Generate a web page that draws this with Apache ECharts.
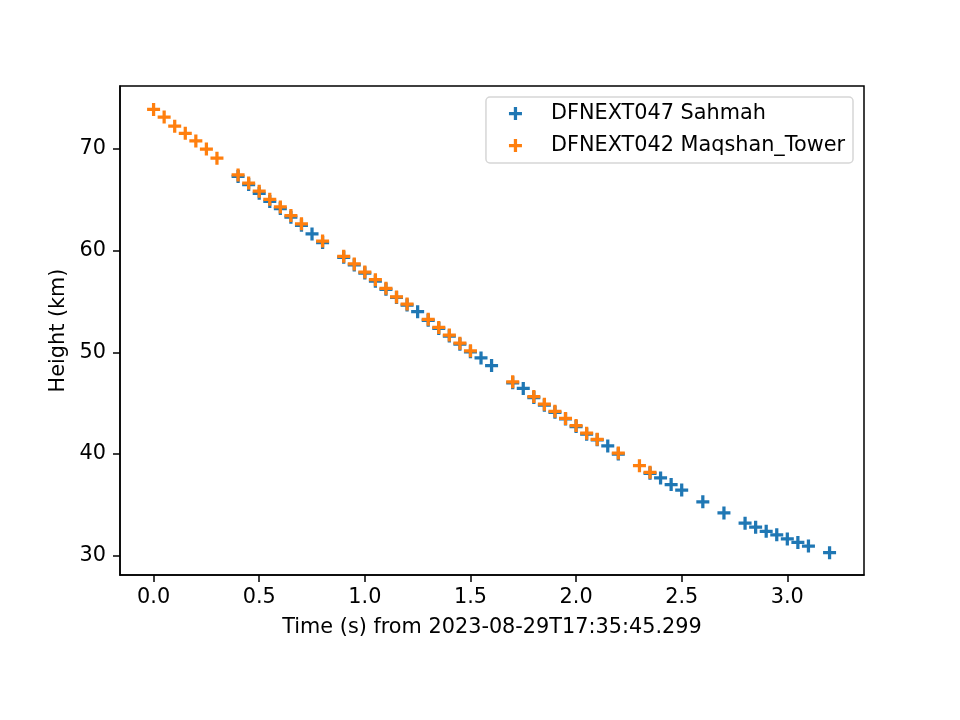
<!DOCTYPE html>
<html>
<head>
<meta charset="utf-8">
<script src="https://cdn.jsdelivr.net/npm/echarts@6/dist/echarts.min.js"></script>
<style>
	html, body { margin: 0; padding: 0; background: #fff; }
	#chart { width: 960px; height: 720px; }
</style>
</head>
<body>
<div id="chart"></div>
<script>
const sahmahName = 'DFNEXT047 Sahmah'
const maqshanName = 'DFNEXT042 Maqshan_Tower'

const sahmahTime = [0.40, 0.45, 0.50, 0.55, 0.60, 0.65, 0.70, 0.75, 0.80, 0.90, 0.95, 1.00, 1.05, 1.10, 1.15, 1.20, 1.25, 1.30, 1.35, 1.40, 1.45, 1.50, 1.55, 1.60, 1.70, 1.75, 1.80, 1.85, 1.90, 1.95, 2.00, 2.05, 2.10, 2.15, 2.20, 2.35, 2.40, 2.45, 2.50, 2.60, 2.70, 2.80, 2.85, 2.90, 2.95, 3.00, 3.05, 3.10, 3.20]
const sahmahHeight = [67.3, 66.5, 65.65, 64.85, 64.15, 63.3, 62.5, 61.65, 60.8, 59.35, 58.6, 57.8, 57.0, 56.2, 55.4, 54.65, 54.0, 53.15, 52.35, 51.6, 50.8, 50.05, 49.45, 48.7, 47.0, 46.45, 45.55, 44.8, 44.1, 43.45, 42.7, 41.95, 41.4, 40.8, 40.0, 38.1, 37.65, 37.0, 36.45, 35.3, 34.2, 33.2, 32.8, 32.4, 32.05, 31.65, 31.3, 30.95, 30.3]

const maqshanTime = [0.00, 0.05, 0.10, 0.15, 0.20, 0.25, 0.30, 0.40, 0.45, 0.50, 0.55, 0.60, 0.65, 0.70, 0.80, 0.90, 0.95, 1.00, 1.05, 1.10, 1.15, 1.20, 1.30, 1.35, 1.40, 1.45, 1.50, 1.70, 1.80, 1.85, 1.90, 1.95, 2.00, 2.05, 2.10, 2.20, 2.30, 2.35]
const maqshanHeight = [73.9, 73.15, 72.25, 71.55, 70.8, 70.0, 69.1, 67.45, 66.65, 65.85, 65.05, 64.3, 63.45, 62.65, 60.95, 59.45, 58.7, 57.9, 57.15, 56.3, 55.45, 54.75, 53.25, 52.45, 51.7, 50.9, 50.15, 47.1, 45.65, 44.9, 44.2, 43.5, 42.8, 42.05, 41.45, 40.1, 38.85, 38.2]

const xTicks = [0.0, 0.5, 1.0, 1.5, 2.0, 2.5, 3.0]
const yTicks = [30, 40, 50, 60, 70]

const plusIcon = 'path://M3,0h2v3h3v2h-3v3h-2v-3h-3v-2h3z'
const font = 'DejaVu Sans'

const zip = (a, b) => a.map((v, i) => [v, b[i]])

const myChart = echarts.init(document.getElementById('chart'))
const option = {
	animation: false,
	textStyle: { fontFamily: font },
	grid: {
		left: 120,
		right: 96,
		top: 86,
		bottom: 145,
		show: true,
		borderColor: '#000',
		borderWidth: 1.5,
	},
	legend: {
		right: 107,
		top: 97,
		orient: 'vertical',
		icon: plusIcon,
		itemWidth: 13,
		itemHeight: 13,
		itemGap: 11,
		padding: [6, 8, 7, 23],
		backgroundColor: 'rgba(255,255,255,0.8)',
		borderColor: '#d6d6d6',
		borderWidth: 1.5,
		borderRadius: 4,
		textStyle: {
			fontFamily: font,
			fontSize: 20.8,
			color: '#000',
			lineHeight: 21,
			padding: [0, 0, 0, 24],
		},
		data: [sahmahName, maqshanName],
	},
	xAxis: {
		type: 'value',
		min: -0.159,
		max: 3.363,
		name: 'Time (s) from 2023-08-29T17:35:45.299',
		nameLocation: 'middle',
		nameGap: 42,
		nameTextStyle: { fontFamily: font, fontSize: 20.8, color: '#000' },
		splitLine: { show: false },
		axisLine: { show: true, onZero: false, lineStyle: { color: '#000', width: 1.5 } },
		axisTick: { show: true, length: 7, lineStyle: { color: '#000', width: 1.5 }, customValues: xTicks },
		axisLabel: {
			color: '#000',
			fontSize: 20.8,
			margin: 12,
			customValues: xTicks,
			formatter: (v) => v.toFixed(1),
		},
	},
	yAxis: {
		type: 'value',
		min: 28.1,
		max: 76.2,
		name: 'Height (km)',
		nameLocation: 'middle',
		nameGap: 47,
		nameTextStyle: { fontFamily: font, fontSize: 20.8, color: '#000' },
		splitLine: { show: false },
		axisLine: { show: true, onZero: false, lineStyle: { color: '#000', width: 1.5 } },
		axisTick: { show: true, length: 7, lineStyle: { color: '#000', width: 1.5 }, customValues: yTicks },
		axisLabel: {
			color: '#000',
			fontSize: 20.8,
			margin: 14,
			customValues: yTicks,
		},
	},
	series: [
		{
			name: sahmahName,
			type: 'scatter',
			symbol: plusIcon,
			symbolSize: 13,
			itemStyle: { color: '#1f77b4', opacity: 1 },
			data: zip(sahmahTime, sahmahHeight),
		},
		{
			name: maqshanName,
			type: 'scatter',
			symbol: plusIcon,
			symbolSize: 13,
			itemStyle: { color: '#ff7f0e', opacity: 1 },
			data: zip(maqshanTime, maqshanHeight),
		},
	],
}
myChart.setOption(option)
</script>
</body>
</html>
